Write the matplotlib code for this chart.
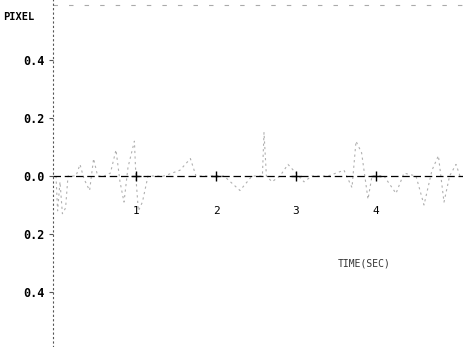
import matplotlib
matplotlib.use("Agg")
import matplotlib.pyplot as plt

# trace (seconds, pixel displacement)
time_s = [0.0, 0.02, 0.05, 0.08, 0.12, 0.15, 0.25, 0.30, 0.35, 0.42, 0.47, 0.52,
          0.60, 0.68, 0.75, 0.80, 0.85, 0.90, 0.98, 1.00, 1.03, 1.08, 1.15, 1.35,
          1.55, 1.68, 1.75, 1.95, 2.10, 2.30, 2.45, 2.58, 2.60, 2.63, 2.70, 2.80,
          2.90, 3.00, 3.10, 3.20, 3.40, 3.60, 3.70, 3.75, 3.82, 3.90, 3.95, 4.10,
          4.25, 4.35, 4.50, 4.60, 4.70, 4.78, 4.85, 4.92, 5.00, 5.05]
pixel = [0.0, -0.12, -0.02, -0.13, -0.11, 0.0, 0.0, 0.04, -0.01, -0.05, 0.06, 0.0,
         0.0, 0.01, 0.09, -0.02, -0.09, 0.03, 0.12, -0.01, -0.12, -0.09, 0.0, 0.0,
         0.02, 0.06, 0.0, 0.0, 0.0, -0.05, 0.0, 0.0, 0.15, 0.0, -0.02, 0.0,
         0.04, 0.01, -0.02, 0.0, 0.0, 0.02, -0.04, 0.12, 0.08, -0.08, 0.0, 0.0,
         -0.06, 0.01, 0.0, -0.1, 0.02, 0.07, -0.09, 0.0, 0.04, 0.0]

x_ticks = [1, 2, 3, 4]
y_ticks = [0.4, 0.2, 0.0, -0.2, -0.4]
y_labels = ["0.4", "0.2", "0.0", "0.2", "0.4"]

fig = plt.figure(figsize=(4.63, 3.47), dpi=100)
ax = fig.add_axes([53 / 463, 0, 1 - 53 / 463, 1])
ax.set_xlim(-0.0375, 5.0875)
ax.set_ylim(-171 / 290, 176 / 290)

mono = "DejaVu Sans Mono"

# signal, faint and broken like the scanned original
ax.plot(time_s, pixel, color="#b0b0b0", lw=0.8, ls=(0, (2, 3)))

# zero line with tick crosses
ax.axhline(0, color="black", lw=0.9, ls=(0, (6, 3)))
ax.plot(x_ticks, [0] * len(x_ticks), "+", color="black", ms=7, mew=1)

# top border (faint dashes)
ax.axhline(171 / 290, color="#aaaaaa", lw=0.8, ls=(0, (4, 10)))

for spine in ["top", "right", "bottom"]:
    ax.spines[spine].set_visible(False)
ax.spines["left"].set_linestyle((0, (1, 3)))
ax.spines["left"].set_linewidth(0.8)
ax.spines["left"].set_color("#555555")

ax.set_xticks([])
ax.set_yticks(y_ticks)
ax.set_yticklabels(y_labels, fontfamily=mono, fontweight="bold", fontsize=8.5)
ax.tick_params(axis="y", length=3, width=0.8, pad=3, color="#555555")

for t in x_ticks:
    ax.text(t, -0.12, str(t), ha="center", va="center",
            fontfamily=mono, fontsize=8)

ax.text(3.85, -0.30, "TIME(SEC)", ha="center", va="center",
        fontfamily=mono, fontsize=7, color="#333333")
fig.text(3 / 463, 1 - 17 / 347, "PIXEL", ha="left", va="center",
         fontfamily=mono, fontsize=7.5, fontweight="bold")

fig.savefig("out.png", dpi=100)
